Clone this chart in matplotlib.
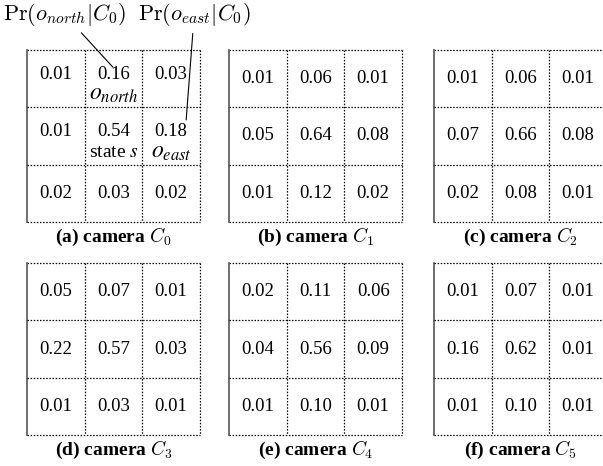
import matplotlib as mpl
mpl.use('Agg')
from matplotlib import pyplot as plt

plt.rcParams['font.family'] = ['Liberation Serif', 'DejaVu Serif']

# observation probabilities per camera, rows top to bottom
cam_probs = [
    [[0.01, 0.16, 0.03], [0.01, 0.54, 0.18], [0.02, 0.03, 0.02]],
    [[0.01, 0.06, 0.01], [0.05, 0.64, 0.08], [0.01, 0.12, 0.02]],
    [[0.01, 0.06, 0.01], [0.07, 0.66, 0.08], [0.02, 0.08, 0.01]],
    [[0.05, 0.07, 0.01], [0.22, 0.57, 0.03], [0.01, 0.03, 0.01]],
    [[0.02, 0.11, 0.06], [0.04, 0.56, 0.09], [0.01, 0.10, 0.01]],
    [[0.01, 0.07, 0.01], [0.16, 0.62, 0.01], [0.01, 0.10, 0.01]],
]
panel_tags = ['(a)', '(b)', '(c)', '(d)', '(e)', '(f)']
camera_ids = [0, 1, 2, 3, 4, 5]

# extra labels inside camera C0 grid: (row, col, text, size)
c0_labels = [(0, 1, r'$o_{north}$', 17), (1, 1, r'state $s$', 14),
             (1, 2, r'$o_{east}$', 17)]

W, H = 603, 466
fig = plt.figure(figsize=(W / 100, H / 100), dpi=100)

lefts = [27, 229, 434]
tops = [50, 263]
pw, ph = 173, 172

dot = (0, (1.2, 1.3))

axes = []
for i, probs in enumerate(cam_probs):
    x0 = lefts[i % 3]
    y0 = tops[i // 3]
    ax = fig.add_axes([x0 / W, 1 - (y0 + ph) / H, pw / W, ph / H])
    ax.set_xlim(0, 3)
    ax.set_ylim(3, 0)
    ax.axis('off')
    for k in range(4):
        ax.plot([0, 3], [k, k], color='black', lw=0.9, ls=dot, clip_on=False)
        if k == 0:
            ax.plot([0, 0], [0, 3], color='#555555', lw=1.2, clip_on=False)
        else:
            ax.plot([k, k], [0, 3], color='black', lw=0.9, ls=dot, clip_on=False)
    for r in range(3):
        for c in range(3):
            ypos = r + 0.5
            if i == 0 and r < 2:
                ypos = r + 0.43
            ax.text(c + 0.5, ypos, f'{probs[r][c]:.2f}',
                    ha='center', va='center', fontsize=13.5)
    if i == 0:
        for r, c, s, fs in c0_labels:
            ax.text(c + 0.5, r + 0.78, s, ha='center', va='center',
                    fontsize=fs, math_fontfamily='stix')
    ax.text(1.5, 3.06, f'{panel_tags[i]} camera $C_{camera_ids[i]}$',
            ha='center', va='top', fontsize=14, fontweight='bold',
            math_fontfamily='cm')
    axes.append(ax)

# pointer labels above the first grid
ax0 = axes[0]
ax0.annotate(r'$\mathrm{Pr}(o_{north}|C_0)$', xy=(1.49, 0.3), xytext=(0.65, -0.62),
             xycoords='data', textcoords='data', ha='center', va='center',
             fontsize=16, math_fontfamily='cm', annotation_clip=False,
             arrowprops=dict(arrowstyle='-', color='black', lw=0.8,
                             shrinkA=2, shrinkB=0))
ax0.annotate(r'$\mathrm{Pr}(o_{east}|C_0)$', xy=(2.76, 1.22), xytext=(2.9, -0.62),
             xycoords='data', textcoords='data', ha='center', va='center',
             fontsize=16, math_fontfamily='cm', annotation_clip=False,
             arrowprops=dict(arrowstyle='-', color='black', lw=0.8,
                             shrinkA=2, shrinkB=0))

fig.savefig('out.png', dpi=100)
